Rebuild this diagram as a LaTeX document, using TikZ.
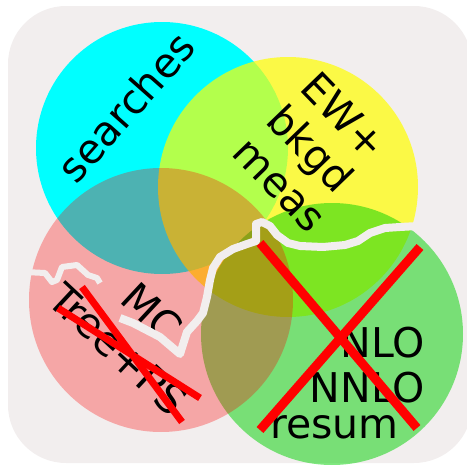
\documentclass[tikz,border=0pt]{standalone}
\usepackage{fontspec}
\setmainfont{DejaVu Sans}
\usepackage{xcolor}
\definecolor{paper}{RGB}{242,238,238}
\definecolor{searchcol}{RGB}{0,255,255}
\definecolor{ewcol}{RGB}{255,255,0}
\definecolor{nlocol}{RGB}{0,210,0}
\definecolor{mccol}{RGB}{255,0,0}
\definecolor{cross}{RGB}{255,0,0}
\tikzset{
  disc/.style={circle,inner sep=0pt,draw=none},
  big/.style={font=\fontsize{41}{47}\selectfont,text=black,inner sep=0pt},
  xmark/.style={draw=cross,line width=7pt},
  tear/.style={draw=paper,line width=8pt,line join=round},
}
\begin{document}
\begin{tikzpicture}[x=1pt,y=-1pt]
  \useasboundingbox (0,0) rectangle (467,466);
  \fill[paper,rounded corners=58pt] (8,6) rectangle (472,463);

  % the four areas
  \node[disc,fill=searchcol,minimum size=252pt] (search) at (162,148) {};
  \node[disc,fill=ewcol,fill opacity=0.7,minimum size=260pt] (ew) at (288,187) {};
  \node[disc,fill=nlocol,fill opacity=0.5,minimum size=262pt] (nlo) at (332,334) {};
  \node[disc,fill=mccol,fill opacity=0.3,minimum size=264pt] (mc) at (161,300) {};

  \node[big,rotate=48.5] (searchtxt) at (126,107) {searches};
  \node[big,rotate=-46,align=left] (ewtxt) at (314,152) {EW+\\bkgd\\meas};
  \node[big,rotate=-43,align=center,font=\fontsize{41}{50}\selectfont] (mctxt) at (135,331) {MC\\Tree+PS};
  \node[big,anchor=base east] (nlotxt) at (425,357) {NLO};
  \node[big,anchor=base east] (nnlotxt) at (425,402) {NNLO};
  \node[big,anchor=base west] (resumtxt) at (270,438) {resum};

  % crossed out
  \draw[xmark] (58,308) -- (200,398);
  \draw[xmark] (82,287) -- (182,422);
  \draw[xmark,line width=9pt] (260,243) -- (417,428);
  \draw[xmark,line width=9pt] (420,247) -- (260,430);

  % torn edges
  \draw[tear,line width=6pt] (25,272) -- (45,273) -- (52,282) -- (57,280) -- (62,267)
    -- (77,265) -- (88,275) -- (97,278) -- (100,283);
  \draw[tear] (120,318) -- (133,323) -- (160,337) -- (180,354) -- (187,332) -- (197,321)
    -- (203,313) -- (207,297) -- (210,280) -- (213,268) -- (220,257) -- (233,249)
    -- (247,244) -- (256,241) -- (256,224) -- (262,222) -- (270,226) -- (277,235)
    -- (288,243) -- (300,246) -- (323,247) -- (345,245) -- (358,241) -- (370,233)
    -- (385,228) -- (400,227) -- (418,226);
\end{tikzpicture}
\end{document}
